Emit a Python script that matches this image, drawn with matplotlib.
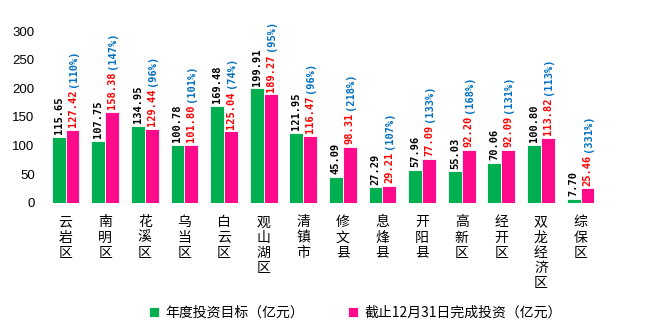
import matplotlib
matplotlib.use("Agg")
import matplotlib.pyplot as plt
import numpy as np

plt.rcParams['font.family'] = ['Noto Sans CJK SC', 'DejaVu Sans']

# 数据
districts = ["云岩区", "南明区", "花溪区", "乌当区", "白云区", "观山湖区", "清镇市",
             "修文县", "息烽县", "开阳县", "高新区", "经开区", "双龙经济区", "综保区"]
target = [115.65, 107.75, 134.95, 100.78, 169.48, 199.91, 121.95,
          45.09, 27.29, 57.96, 55.03, 70.06, 100.80, 7.70]
done = [127.42, 158.38, 129.44, 101.80, 125.04, 189.27, 116.47,
        98.31, 29.21, 77.09, 92.20, 92.09, 113.82, 25.46]
ratio = ["110%", "147%", "96%", "101%", "74%", "95%", "96%",
         "218%", "107%", "133%", "168%", "131%", "113%", "331%"]

green = "#00B050"
pink = "#FF0A8A"

fig = plt.figure(figsize=(6.54, 3.30), dpi=100)
ax = fig.add_axes([0.070, 0.385, 0.848, 0.521])

x = np.arange(len(districts))
w = 0.35
ax.bar(x - w / 2, target, w, color=green, edgecolor="white", linewidth=0.6,
       label="年度投资目标（亿元）")
ax.bar(x + w / 2, done, w, color=pink, edgecolor="white", linewidth=0.6,
       label="截止12月31日完成投资（亿元）")

lab_font = dict(fontsize=7.5, fontweight="bold", family="DejaVu Sans Mono",
                rotation=90, ha="center", va="bottom")
for i in range(len(districts)):
    ax.annotate(f"{target[i]:.2f}", (x[i] - w / 2, target[i]), xytext=(0, 2),
                textcoords="offset points", color="black", **lab_font)
    t = ax.annotate(f"{done[i]:.2f}", (x[i] + w / 2, done[i]), xytext=(0, 2),
                    textcoords="offset points", color="#FF0000", **lab_font)
    ax.annotate(f"({ratio[i]})", xy=(0.5, 1), xycoords=t, xytext=(0, 2),
                textcoords="offset points", color="#0070C0", **lab_font)

ax.set_xlim(-0.5, len(districts) - 0.5)
ax.set_ylim(0, 300)
ax.set_yticks(range(0, 301, 50))
ax.set_yticklabels([str(v) for v in range(0, 301, 50)], family="Liberation Sans",
                   fontsize=9.5)
ax.set_xticks(x)
ax.set_xticklabels(["\n".join(d) for d in districts], fontsize=10, linespacing=1.1)
ax.tick_params(axis="x", length=0, pad=9)
ax.tick_params(axis="y", length=0, pad=8)
for s in ax.spines.values():
    s.set_visible(False)

fig.legend(loc="center", bbox_to_anchor=(0.543, 0.052), ncol=2, frameon=False,
           fontsize=10, handlelength=0.7, handleheight=0.7, handletextpad=0.45,
           columnspacing=3.2)

fig.savefig("out.png", dpi=100)
